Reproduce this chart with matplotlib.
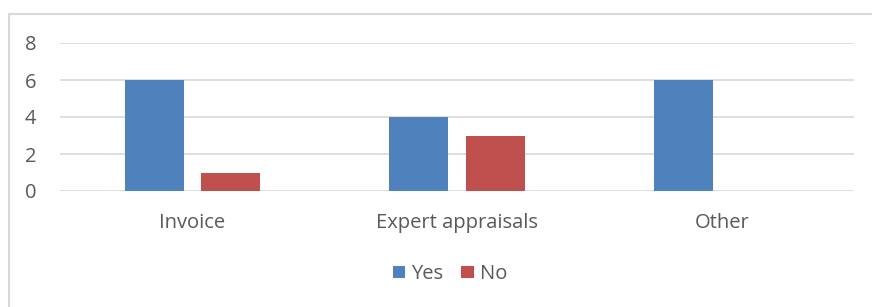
import matplotlib.pyplot as plt
from matplotlib.patches import Rectangle
import numpy as np

categories = ['Invoice', 'Expert appraisals', 'Other']
yes_vals = [6, 4, 6]
no_vals = [1, 3, 0]
y_ticks = [0, 2, 4, 6, 8]

W, H = 872, 307
fig = plt.figure(figsize=(W / 100, H / 100), dpi=100)
plt.rcParams['font.family'] = ['Open Sans', 'DejaVu Sans']

# Rahmen des Diagramms (oben und links sichtbar)
fig.patches.append(Rectangle((9 / W, -0.1), 1.2, 1.1 - 14 / H, transform=fig.transFigure,
                             fill=False, edgecolor='#D9D9D9', linewidth=1.5))

ax = fig.add_axes([60 / W, 1 - 191 / H, (854 - 60) / W, (191 - 43) / H])

x = np.arange(len(categories))
bw = 0.223
ax.bar(x - 0.144, yes_vals, bw, color='#4F81BD', label='Yes', zorder=3)
ax.bar(x + 0.144, no_vals, bw, color='#C0504D', label='No', zorder=3)

ax.set_xlim(-0.5, len(categories) - 0.5)
ax.set_ylim(0, 8)
ax.set_yticks(y_ticks)
ax.yaxis.grid(True, color='#D9D9D9', linewidth=1.2, zorder=0)
for s in ax.spines.values():
    s.set_visible(False)
ax.tick_params(length=0, labelsize=14.5, labelcolor='#595959')
ax.tick_params(axis='y', pad=17)
ax.tick_params(axis='x', pad=16)
ax.set_xticks(x)
ax.set_xticklabels(categories)

leg = fig.legend(loc='center', bbox_to_anchor=(450 / W, 1 - 274 / H), ncol=2, frameon=False,
                 fontsize=14.5, handlelength=0.6, handleheight=0.6, handletextpad=0.3,
                 columnspacing=0.9)
for t in leg.get_texts():
    t.set_color('#595959')

fig.savefig('out.png', dpi=100)
